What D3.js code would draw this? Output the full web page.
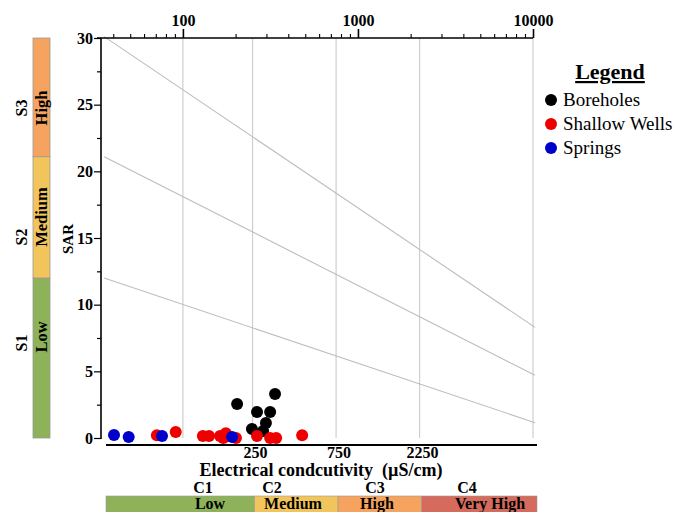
<!DOCTYPE html>
<html><head><meta charset="utf-8">
<script src="https://cdn.jsdelivr.net/npm/d3@7"></script>
<style>body{margin:0;background:#fff}svg{display:block;font-family:"Liberation Serif","Times New Roman",serif}</style>
</head><body><svg id="c" width="676" height="512"></svg>
<script>
// ---- data ----
const boreholesEC  = [204, 336, 265, 315, 298, 248, 287];
const boreholesSAR = [2.55, 3.3, 1.95, 1.95, 1.13, 0.68, 0.53];
const wellsEC  = [71, 91, 130, 141, 163, 176, 170, 201, 265, 315, 341, 480];
const wellsSAR = [0.2, 0.45, 0.15, 0.15, 0.15, 0.35, 0.0, 0.0, 0.15, 0.0, 0.0, 0.2];
const springsEC  = [40.4, 49, 76, 191];
const springsSAR = [0.22, 0.08, 0.15, 0.08];
const topTickLabels = [100, 1000, 10000];
const gridEC = [100, 250, 750, 2250, 10000];
const bottomTickLabels = [250, 750, 2250];
const sarTicks = [0, 5, 10, 15, 20, 25, 30];
// hazard boundary lines: SAR at EC start and at EC 10000
const hazardLineStart = [12.0, 21.1, 30.1];
const hazardLineEnd   = [1.15, 4.7, 8.3];
const ecClasses = ["C1", "C2", "C3", "C4"];
const ecClassNames = ["Low", "Medium", "High", "Very High"];
const ecClassBounds = [36, 250, 750, 2250, 10000];
const sarClasses = ["S1", "S2", "S3"];
const sarClassNames = ["Low", "Medium", "High"];
const seriesNames = ["Boreholes", "Shallow Wells", "Springs"];
const seriesColors = ["#000000", "#ee0000", "#0000cc"];
const classColors = ["#8db25a", "#f2c45c", "#f5a35f", "#d46b5c"];

// ---- chart ----
const svg = d3.select("#c");
const ecMin = 34.5, ecMax = 10000;
const x = d3.scaleLog().domain([ecMin, ecMax]).range([102, 533]);
const y = d3.scaleLinear().domain([0, 30]).range([438, 38]);

// grid lines
svg.append("g").selectAll("line").data(gridEC).join("line")
  .attr("x1", d => x(d)).attr("x2", d => x(d))
  .attr("y1", y(30)).attr("y2", y(0))
  .attr("stroke", "#cfcfcf").attr("stroke-width", 1.2);

// hazard lines
const lineStartEC = 35.5;
svg.append("g").selectAll("line").data(hazardLineStart).join("line")
  .attr("x1", x(lineStartEC)).attr("y1", d => y(d))
  .attr("x2", x(ecMax) + 2).attr("y2", (d, i) => y(hazardLineEnd[i]))
  .attr("stroke", "#bdbdbd").attr("stroke-width", 1.1);

// top axis
const minorTop = [];
[10, 100, 1000].forEach(dec => { for (let k = 1; k <= 9; k++) { const v = dec * k; if (v > ecMin && v <= ecMax) minorTop.push(v); } });
minorTop.push(10000);
const topAx = d3.axisTop(x).tickValues(minorTop)
  .tickSize(0).tickFormat(d => topTickLabels.includes(d) ? d : "");
const gTop = svg.append("g").attr("transform", "translate(0,38)").call(topAx);
gTop.select(".domain").remove();
gTop.append("line").attr("x1", 97).attr("x2", 533).attr("stroke", "#000").attr("stroke-width", 1.3);
gTop.selectAll(".tick").append("line")
  .attr("y2", d => topTickLabels.includes(d) ? -9 : -4)
  .attr("stroke", "#000").attr("stroke-width", d => topTickLabels.includes(d) ? 1.6 : 1.1);
gTop.selectAll(".tick text").attr("y", -12).attr("font-family", "Liberation Serif")
  .attr("font-weight", "bold").attr("font-size", 16).attr("fill", "#000");

// left axis
const leftTicks = d3.range(0, 30.01, 2.5);
const leftAx = d3.axisLeft(y).tickValues(leftTicks).tickSize(0)
  .tickFormat(d => sarTicks.includes(d) ? d : "");
const gLeft = svg.append("g").attr("transform", "translate(101,0)").call(leftAx);
gLeft.select(".domain").remove();
gLeft.append("line").attr("y1", y(30)).attr("y2", y(0) + 1).attr("stroke", "#000").attr("stroke-width", 1.6);
gLeft.selectAll(".tick").append("line")
  .attr("x2", d => sarTicks.includes(d) ? -7 : -4)
  .attr("stroke", "#000").attr("stroke-width", 1.2);
gLeft.selectAll(".tick text").attr("x", -8).attr("font-family", "Liberation Serif")
  .attr("font-weight", "bold").attr("font-size", 16).attr("fill", "#000");

svg.append("text").attr("transform", "translate(73,239) rotate(-90)")
  .attr("text-anchor", "middle").attr("font-weight", "bold").attr("font-size", 15).text("SAR");

// bottom axis line
svg.append("line").attr("x1", 106).attr("x2", 537).attr("y1", 445).attr("y2", 445)
  .attr("stroke", "#000").attr("stroke-width", 2);
svg.append("g").selectAll("text").data(bottomTickLabels).join("text")
  .attr("x", d => x(d) + 3).attr("y", 458).attr("text-anchor", "middle")
  .attr("font-weight", "bold").attr("font-size", 16).text(d => d);
svg.append("text").attr("x", 321).attr("y", 476).attr("text-anchor", "middle")
  .attr("font-weight", "bold").attr("font-size", 18).style("white-space", "pre")
  .text("Electrical condcutivity  (µS/cm)");

// bottom class bar
const bx = d => d === ecClassBounds[0] ? 106 : (d === ecMax ? 537 : x(d) + 2);
const bottomBar = svg.append("g");
ecClasses.forEach((c, i) => {
  const x0 = bx(ecClassBounds[i]), x1 = bx(ecClassBounds[i + 1]);
  bottomBar.append("rect").attr("x", x0).attr("y", 496).attr("width", x1 - x0).attr("height", 20)
    .attr("fill", classColors[i]).attr("stroke", "#9a9a9a").attr("stroke-width", 0.6);
});
const cLabelX = [203, 272, 375, 467];
const nLabelX = [210, 293, 377, 490];
bottomBar.selectAll("text.c").data(ecClasses).join("text").attr("class", "c")
  .attr("x", (d, i) => cLabelX[i]).attr("y", 493).attr("text-anchor", "middle")
  .attr("font-weight", "bold").attr("font-size", 16).text(d => d);
bottomBar.selectAll("text.n").data(ecClassNames).join("text").attr("class", "n")
  .attr("x", (d, i) => nLabelX[i]).attr("y", 508.5).attr("text-anchor", "middle")
  .attr("font-weight", "bold").attr("font-size", 16).text(d => d);

// left class bar
const sarBounds = [0, hazardLineStart[0], hazardLineStart[1], 30];
const leftBar = svg.append("g");
sarClasses.forEach((c, i) => {
  const yTop = y(sarBounds[i + 1]), yBot = y(sarBounds[i]);
  leftBar.append("rect").attr("x", 33).attr("y", yTop).attr("width", 17).attr("height", yBot - yTop)
    .attr("fill", classColors[i]).attr("stroke", "#9a9a9a").attr("stroke-width", 0.8);
});
const sNameY = [337, 217, 108];
const sLabelY = [343, 237, 108];
leftBar.selectAll("text.n").data(sarClassNames).join("text").attr("class", "n")
  .attr("transform", (d, i) => `translate(47,${sNameY[i]}) rotate(-90)`)
  .attr("text-anchor", "middle").attr("font-weight", "bold").attr("font-size", 16.5).text(d => d);
leftBar.selectAll("text.s").data(sarClasses).join("text").attr("class", "s")
  .attr("transform", (d, i) => `translate(27,${sLabelY[i]}) rotate(-90)`)
  .attr("text-anchor", "middle").attr("font-weight", "bold").attr("font-size", 16).text(d => d);

// points
const series = [
  { ec: boreholesEC, sar: boreholesSAR },
  { ec: wellsEC, sar: wellsSAR },
  { ec: springsEC, sar: springsSAR }
];
series.forEach((s, si) => {
  svg.append("g").selectAll("circle").data(s.ec.map((e, i) => [e, s.sar[i]])).join("circle")
    .attr("cx", d => x(d[0])).attr("cy", d => y(d[1])).attr("r", 6)
    .attr("fill", seriesColors[si]);
});

// legend
const lg = svg.append("g");
lg.append("text").attr("x", 610).attr("y", 79).attr("text-anchor", "middle")
  .attr("font-weight", "bold").attr("font-size", 22).attr("text-decoration", "underline").text("Legend");
lg.selectAll("circle").data(seriesNames).join("circle")
  .attr("cx", 551).attr("cy", (d, i) => 100 + i * 24).attr("r", 6).attr("fill", (d, i) => seriesColors[i]);
lg.selectAll("text.it").data(seriesNames).join("text").attr("class", "it")
  .attr("x", 563).attr("y", (d, i) => 106 + i * 24).attr("font-size", 19).text(d => d);
</script></body></html>
